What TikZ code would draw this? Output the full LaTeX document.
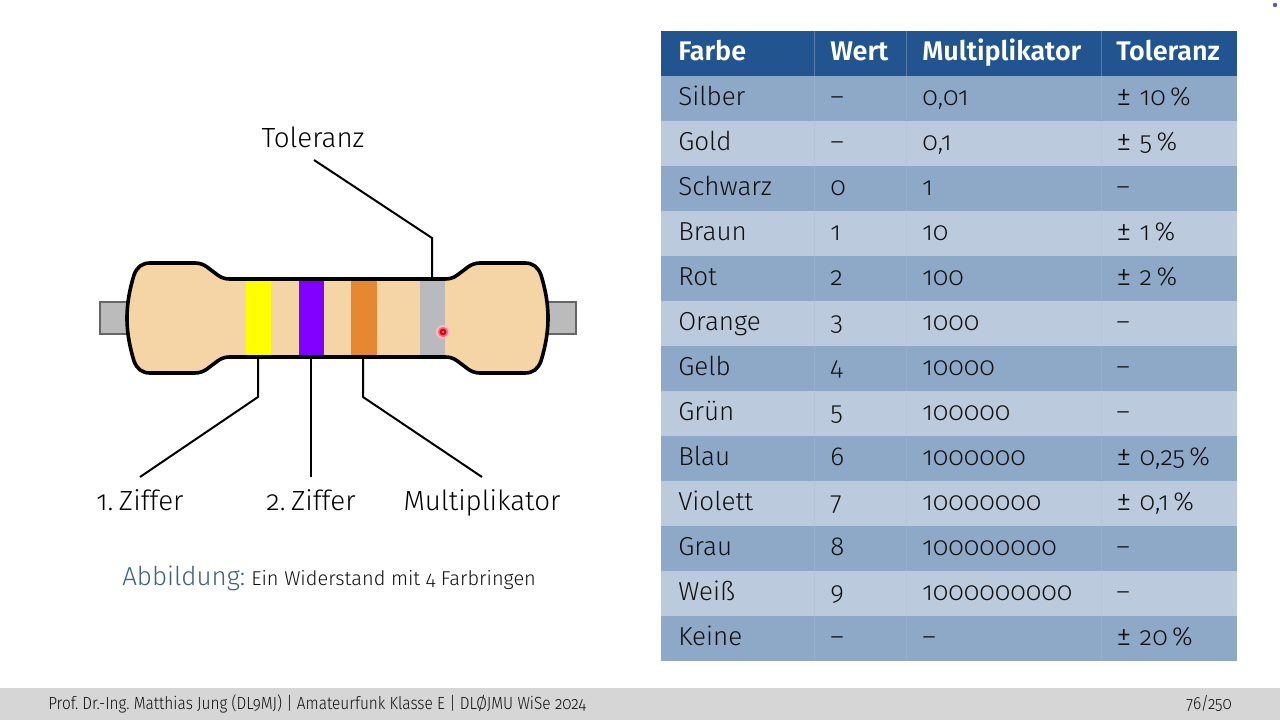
\documentclass[tikz,border=0pt]{standalone}
\usepackage{fontspec}
\setmainfont{Fira Sans}[Numbers=OldStyle,UprightFont=* Light,BoldFont=* SemiBold]
\newfontfamily\footfont{Fira Sans}[Numbers=OldStyle,UprightFont=* Light,FakeStretch=0.875]
\frenchspacing
\definecolor{hdr}{HTML}{22548F}
\definecolor{rowa}{HTML}{8EA8C7}
\definecolor{rowb}{HTML}{BCCADD}
\definecolor{body}{HTML}{F5D5A5}
\definecolor{txt}{HTML}{111111}
\definecolor{capc}{HTML}{3F6187}
\definecolor{foot}{HTML}{D6D6D6}
\definecolor{lead}{HTML}{BBBBBB}
\definecolor{gline}{HTML}{A9BBD3}
\definecolor{bandy}{RGB}{255,255,0}
\definecolor{bandv}{RGB}{128,0,255}
\definecolor{bando}{RGB}{230,135,50}
\definecolor{bandg}{RGB}{186,186,190}
\definecolor{glowa}{RGB}{250,190,195}
\definecolor{glowb}{RGB}{240,110,125}
\definecolor{glowc}{RGB}{210,10,30}
\definecolor{glowd}{RGB}{245,130,130}
\definecolor{pagedot}{RGB}{90,90,170}
\tikzset{
  cell/.style={anchor=base west,font=\fontsize{19.5}{22}\selectfont,text=txt,inner sep=0pt},
  head/.style={anchor=base west,font=\fontsize{20.2}{22}\selectfont\bfseries,text=white,inner sep=0pt},
  lab/.style={anchor=base,font=\fontsize{20.8}{24}\selectfont,text=black,inner sep=0pt},
  wire/.style={draw=black,line width=1.5pt,line join=miter},
  band/.style={inner sep=0pt,minimum width=19.2pt,minimum height=57pt},
}
\newcommand{\pct}[1]{{\fontsize{23}{22}\selectfont ±}\hspace{0.32em}#1\,\%}
\begin{document}
\begin{tikzpicture}[x=0.75pt,y=-0.75pt]
\useasboundingbox (0,0) rectangle (1280,720);
\fill[white] (0,0) rectangle (1280,720);
\fill[foot] (0,688) rectangle (1280,720);
\node[anchor=base west,inner sep=0pt,font=\footfont\fontsize{13.2}{16}\selectfont,text=txt] (footl) at (48,709) {Prof. Dr.-Ing. Matthias Jung (DL9MJ) | Amateurfunk Klasse E | DLØJMU WiSe 2024};
\node[anchor=base east,inner sep=0pt,font=\footfont\fontsize{13.2}{16}\selectfont,text=txt] (footr) at (1232,709) {76/250};
% leads
\draw[draw=black!60,fill=lead,line width=0.8pt] (100,302) rectangle (128,334);
\draw[draw=black!60,fill=lead,line width=0.8pt] (548,302) rectangle (576,334);
% body
\def\bodypath{(127,318) .. controls (127,300) and (131,285) .. (134,275)
 .. controls (137,267) and (142,263) .. (150,263) -- (195,263)
 .. controls (205,263) and (210,270) .. (215,273)
 .. controls (219,276) and (222,279) .. (230,279) -- (445,279)
 .. controls (453,279) and (456,276) .. (460,273)
 .. controls (465,270) and (470,263) .. (480,263) -- (525,263)
 .. controls (533,263) and (538,267) .. (541,275)
 .. controls (544,285) and (548,300) .. (548,318)
 .. controls (548,336) and (544,351) .. (541,361)
 .. controls (538,369) and (533,373) .. (525,373) -- (480,373)
 .. controls (470,373) and (465,366) .. (460,363)
 .. controls (456,360) and (453,357) .. (445,357) -- (230,357)
 .. controls (222,357) and (219,360) .. (215,363)
 .. controls (210,366) and (205,373) .. (195,373) -- (150,373)
 .. controls (142,373) and (137,369) .. (134,361)
 .. controls (131,351) and (127,336) .. (127,318) -- cycle}
\fill[body] \bodypath;
\node[band,fill=bandy] (b1) at (258.5,318) {};
\node[band,fill=bandv] (b2) at (311.5,318) {};
\node[band,fill=bando] (b3) at (364,318) {};
\node[band,fill=bandg] (b4) at (432.5,318) {};
\draw[black,line width=2.7pt,line join=round] \bodypath;
% marker
\fill[glowa] (443,332) circle (7);
\fill[glowb] (443,332) circle (5.2);
\fill[glowc] (443,332) circle (3.4);
\fill[glowd] (443,332) circle (1);
\fill[pagedot] (1275,5) circle (2.2);
% labels
\node[lab] (tol) at (313,148) {Toleranz};
\node[lab] (z1) at (140,510) {1.\hspace{0.2em}Ziffer};
\node[lab] (z2) at (311,510) {2.\hspace{0.2em}Ziffer};
\node[lab] (mul) at (482,510) {Multiplikator};
\coordinate (tolk) at (432,238);
\coordinate (z1k) at (258,397);
\coordinate (mulk) at (363,397);
\coordinate (tolt) at (314,160);
\coordinate (z1t) at (140,477);
\coordinate (z2t) at (311,477);
\coordinate (mult) at (482,477);
\draw[wire] (tolt) -- (tolk) -- (tolk |- b4.north);
\draw[wire] (b1.south -| z1k) -- (z1k) -- (z1t);
\draw[wire] (b2.south -| z2t) -- (z2t);
\draw[wire] (b3.south -| mulk) -- (mulk) -- (mult);
% caption
\node[anchor=base west,inner sep=0pt] (cap) at (122,585) {\fontsize{19.5}{22}\selectfont\color{capc}Abbildung:\hspace{4.5pt}\fontsize{15}{18}\selectfont\color{txt}Ein Widerstand mit 4 Farbringen};
% table
\fill[hdr] (661,31) rectangle (1237,76);
\foreach \i in {0,...,12}{
  \pgfmathtruncatemacro{\m}{mod(\i,2)}
  \ifnum\m=0 \fill[rowa] (661,76+45*\i) rectangle (1237,121+45*\i);
  \else \fill[rowb] (661,76+45*\i) rectangle (1237,121+45*\i); \fi
}
\foreach \x in {814,906,1101}{\draw[gline,line width=0.4pt,opacity=0.4] (\x,31) -- (\x,661);}
\node[head] (h1) at (678,60.5) {Farbe};
\node[head] (h2) at (830,60.5) {Wert};
\node[head] (h3) at (922,60.5) {Multiplikator};
\node[head] (h4) at (1116,60.5) {Toleranz};
\foreach \a/\b/\c/\d [count=\n from 0] in {
 Silber/--/{0,01}/{\pct{10}},
 Gold/--/{0,1}/{\pct{5}},
 Schwarz/0/1/--,
 Braun/1/10/{\pct{1}},
 Rot/2/100/{\pct{2}},
 Orange/3/1000/--,
 Gelb/4/10000/--,
 Grün/5/100000/--,
 Blau/6/1000000/{\pct{0,25}},
 Violett/7/10000000/{\pct{0,1}},
 Grau/8/100000000/--,
 Weiß/9/1000000000/--,
 Keine/--/--/{\pct{20}}}{
  \node[cell] (c\n a) at (678,105.5+45*\n) {\a};
  \node[cell] (c\n b) at (830,105.5+45*\n) {\b};
  \node[cell] (c\n c) at (922,105.5+45*\n) {\c};
  \node[cell] (c\n d) at (1116,105.5+45*\n) {\d};
}
\end{tikzpicture}
\end{document}
